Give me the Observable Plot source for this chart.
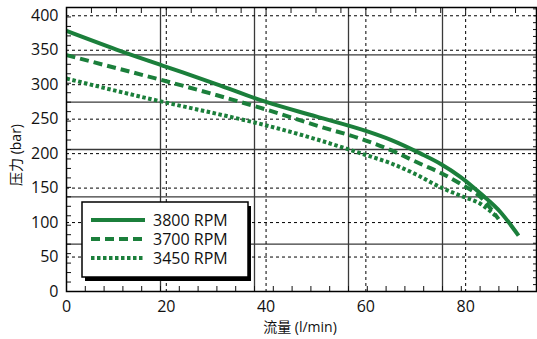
<!DOCTYPE html>
<html><head><meta charset="utf-8">
<script src="https://cdn.jsdelivr.net/npm/d3@7"></script>
<script src="https://cdn.jsdelivr.net/npm/@observablehq/plot@0.6"></script>
<style>
html,body{margin:0;padding:0;background:#fff;}
#chart{width:537px;height:339px;position:relative;}
</style></head><body><div id="chart"></div>
<script>
// ---- data ----
const seriesNames = ["3800 RPM", "3700 RPM", "3450 RPM"];
const flow3800 = [0, 10, 20, 30, 40, 50, 60, 65, 71, 75, 79, 83, 87, 90.6];
const pres3800 = [378, 351, 326, 301, 275, 254, 233, 220, 200, 185, 166, 142, 115, 81];
const flow3700 = [0, 10, 20, 30, 40, 50, 60, 65, 71, 75, 79, 83, 86.6];
const pres3700 = [343, 324, 305, 285, 264, 241, 219, 205, 185, 172, 156, 137, 105];
const flow3450 = [0, 10, 20, 30, 40, 50, 60, 65, 70, 75, 79, 83, 86];
const pres3450 = [309, 291, 274, 258, 241, 221, 198, 186, 170, 151, 139, 127, 110];
const xTicks = [0, 20, 40, 60, 80];
const yTicks = [0, 50, 100, 150, 200, 250, 300, 350, 400];
const xMax = 94.2, yMax = 412;

const green = "#1b7f3b";
const styles = [
  {dash: null, cap: "butt"},
  {dash: "9,5", cap: "butt"},
  {dash: "3.5,2.5", cap: "butt"}
];
const series = [
  {x: flow3800, y: pres3800},
  {x: flow3700, y: pres3700},
  {x: flow3450, y: pres3450}
];

const font = "'Open Sans', 'Noto Sans CJK SC', sans-serif";
const frameX = d3.range(1, 5).map(i => xMax * i / 5);
const frameY = d3.range(1, 6).map(i => yMax * i / 6);
const frameTickX = d3.range(1, 25).map(i => xMax * i / 25);
const frameTickY = d3.range(1, 30).map(i => yMax * i / 30);
const topTicks = d3.range(5, xMax, 5);
const rightTicks = d3.range(10, yMax, 10);

const lineMarks = series.map((s, i) => Plot.line(s.x.map((x, j) => ({x, y: s.y[j]})), {
  x: "x", y: "y", stroke: green, strokeWidth: 4, strokeDasharray: styles[i].dash,
  strokeLinecap: styles[i].cap, curve: "monotone-x"
}));

const chart = Plot.plot({
  width: 537, height: 339,
  marginLeft: 66, marginRight: 1, marginTop: 7, marginBottom: 48,
  style: {fontFamily: font, fontSize: "16px", color: "#111", background: "transparent"},
  x: {domain: [0, xMax], label: null},
  y: {domain: [0, yMax], label: null},
  marks: [
    // solid frame grid
    Plot.ruleX(frameX, {stroke: "#3a3a3a", strokeWidth: 1.3}),
    Plot.ruleY(frameY, {stroke: "#3a3a3a", strokeWidth: 1.3}),
    // dotted data grid
    Plot.ruleX(xTicks.filter(d => d > 0), {stroke: "#000", strokeWidth: 1, strokeDasharray: "3,3"}),
    Plot.ruleY(yTicks.filter(d => d > 0), {stroke: "#000", strokeWidth: 1, strokeDasharray: "3,3"}),
    // inner ticks
    Plot.axisX(frameTickX, {anchor: "bottom", tickSize: -5, text: null, label: null, strokeWidth: 1}),
    Plot.axisX(topTicks, {anchor: "top", tickSize: -5, text: null, label: null, strokeWidth: 1}),
    Plot.axisY(frameTickY, {anchor: "left", tickSize: -5, text: null, label: null, strokeWidth: 1}),
    Plot.axisY(rightTicks, {anchor: "right", tickSize: -4, text: null, label: null, strokeWidth: 1}),
    // labelled axes
    Plot.axisX(xTicks, {anchor: "bottom", tickSize: 0, tickPadding: 9.6, label: null, fontSize: 16}),
    Plot.axisY(yTicks, {anchor: "left", tickSize: 0, tickPadding: 8, label: null, fontSize: 16}),
    ...lineMarks,
    Plot.frame({stroke: "#000", strokeWidth: 1.5})
  ]
});
document.getElementById("chart").appendChild(chart);

const svg = d3.select(chart);
// axis titles
svg.append("text").attr("x", 300).attr("y", 332).attr("text-anchor", "middle")
  .attr("font-family", font).attr("font-size", 14).attr("fill", "#111").text("流量 (l/min)");
svg.append("text").attr("transform", "translate(21,155) rotate(-90)").attr("text-anchor", "middle")
  .attr("font-family", font).attr("font-size", 14).attr("fill", "#111").text("压力 (bar)");

// legend
const lg = svg.append("g");
const bx = 82, by = 202, bw = 166, bh = 75;
lg.append("rect").attr("x", bx + 3).attr("y", by + 4).attr("width", bw).attr("height", bh).attr("fill", "#000");
lg.append("rect").attr("x", bx).attr("y", by).attr("width", bw).attr("height", bh)
  .attr("fill", "#fff").attr("stroke", "#000").attr("stroke-width", 1.5);
seriesNames.forEach((name, i) => {
  const yy = 220 + i * 19;
  lg.append("line").attr("x1", 91).attr("x2", 145).attr("y1", yy).attr("y2", yy)
    .attr("stroke", green).attr("stroke-width", 4).attr("stroke-dasharray", styles[i].dash);
  lg.append("text").attr("x", 153).attr("y", yy).attr("dy", "0.35em").attr("text-anchor", "start")
    .attr("font-family", font).attr("font-size", 16).attr("fill", "#111").text(name);
});
</script>
</body></html>
